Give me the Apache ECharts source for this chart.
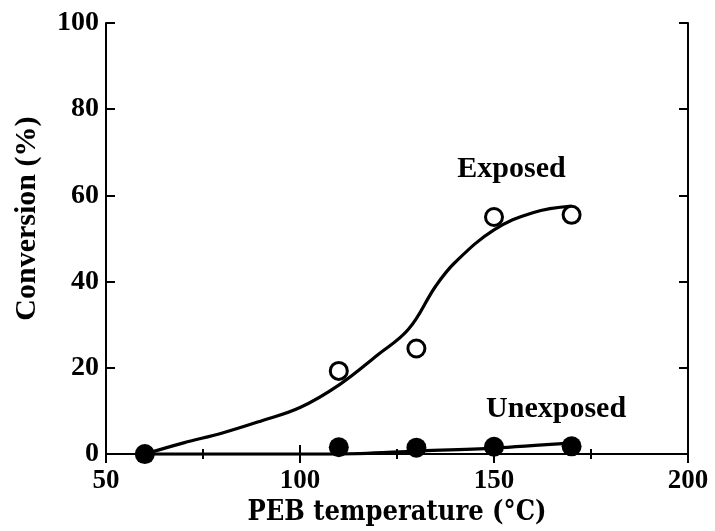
<!DOCTYPE html>
<html><head><meta charset="utf-8">
<script src="https://cdn.jsdelivr.net/npm/echarts@6/dist/echarts.min.js"></script>
<style>html,body{margin:0;padding:0;background:#fff}#c{width:715px;height:531px}</style>
</head><body><div id="c"></div>
<script>
// data
const exposedX = [110, 130, 150, 170];
const exposedY = [19.3, 24.5, 55, 55.5];
const unexposedX = [60, 110, 130, 150, 170];
const unexposedY = [0, 1.6, 1.5, 1.7, 1.8];
const exposedFitX = [60, 70, 80, 90, 100, 110, 120, 128, 135, 140, 150, 160, 170];
const exposedFitY = [0, 2.6, 4.9, 7.7, 10.8, 16, 23, 29, 39, 44.5, 52, 56, 57.5];
const unexposedFitX = [60, 110, 130, 150, 170];
const unexposedFitY = [0, 0, 0.7, 1.4, 2.6];
const xTicks = [50, 100, 150, 200];
const yTicks = [0, 20, 40, 60, 80, 100];
const labels = [{text: 'Exposed', x: 154.5, y: 66}, {text: 'Unexposed', x: 166, y: 10.5}];

const font = '"Liberation Serif", "DejaVu Serif", serif';
const wideFont = '"DejaVu Serif Condensed", "Liberation Serif", serif';
const zip = (a, b) => a.map((v, i) => [v, b[i]]);
const chart = echarts.init(document.getElementById('c'));
const tickStyle = {color: '#000', width: 2};
const axisCommon = {
  axisLine: {show: true, lineStyle: {color: '#000', width: 2}},
  axisTick: {show: true, inside: true, length: 9, lineStyle: tickStyle},
  splitLine: {show: false}
};
chart.setOption({
  animation: false,
  grid: {left: 106, right: 27, top: 23, bottom: 74, show: false},
  xAxis: [
    Object.assign({type: 'value', min: 50, max: 200, interval: 50, position: 'bottom',
      name: 'PEB temperature (°C)', nameLocation: 'middle', nameGap: 33,
      nameTextStyle: {fontFamily: wideFont, fontWeight: 'bold', fontSize: 27, color: '#000'},
      axisLabel: {fontFamily: font, fontWeight: 'bold', fontSize: 27, color: '#000', margin: 13,
        formatter: v => xTicks.includes(v) ? String(v) : ''}}, axisCommon,
      {minorTick: {show: true, splitNumber: 2, length: 5, lineStyle: tickStyle}}),
    Object.assign({type: 'value', min: 50, max: 200, interval: 50, position: 'top',
      axisLabel: {show: false}}, axisCommon,
      {minorTick: {show: true, splitNumber: 2, length: 5, lineStyle: tickStyle}})
  ],
  yAxis: [
    Object.assign({type: 'value', min: 0, max: 100, interval: 20, position: 'left',
      name: 'Conversion (%)', nameLocation: 'middle', nameGap: 64, nameRotate: 90,
      nameTextStyle: {fontFamily: font, fontWeight: 'bold', fontSize: 30, color: '#000', padding: [0, 0, 0, 40]},
      axisLabel: {fontFamily: font, fontWeight: 'bold', fontSize: 28, color: '#000', margin: 7,
        formatter: v => yTicks.includes(v) ? String(v) : ''}}, axisCommon),
    Object.assign({type: 'value', min: 0, max: 100, interval: 20, position: 'right',
      axisLabel: {show: false}}, axisCommon)
  ],
  series: [
    {type: 'line', data: zip(exposedFitX, exposedFitY), smooth: 0.4, showSymbol: false,
      lineStyle: {color: '#000', width: 3.2}, z: 2},
    {type: 'line', data: zip(unexposedFitX, unexposedFitY), smooth: 0.3, showSymbol: false,
      lineStyle: {color: '#000', width: 3.2}, z: 2},
    {type: 'scatter', data: zip(exposedX, exposedY), symbol: 'circle', symbolSize: 17,
      itemStyle: {color: '#fff', borderColor: '#000', borderWidth: 3, opacity: 1}, z: 3},
    {type: 'scatter', data: zip(unexposedX, unexposedY), symbol: 'circle', symbolSize: 20,
      itemStyle: {color: '#000', opacity: 1}, z: 3},
    {type: 'scatter', data: labels.map(l => [l.x, l.y]), symbolSize: 0, silent: true,
      itemStyle: {opacity: 1},
      label: {show: true, position: 'inside', formatter: p => labels[p.dataIndex].text,
        fontFamily: font, fontWeight: 'bold', fontSize: 30, color: '#000'}, z: 4}
  ]
});
</script></body></html>
